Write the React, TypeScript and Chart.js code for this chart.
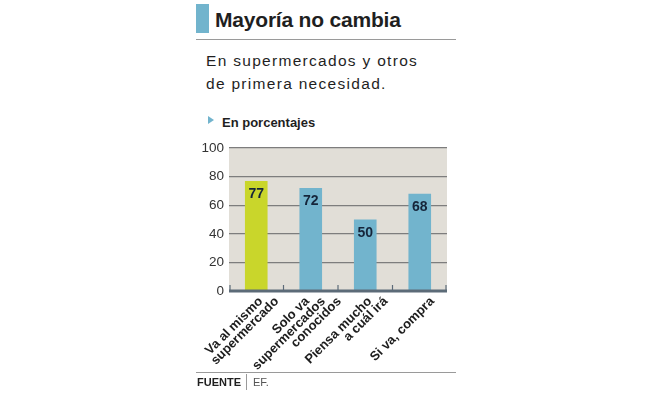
import React, { useEffect, useRef } from "react";
import { Chart, registerables } from "chart.js";

Chart.register(...registerables);

const categories: string[][] = [
  ["Va al mismo", "supermercado"],
  ["Solo va", "supermercados", "conocidos"],
  ["Piensa mucho", "a cuál irá"],
  ["Si va, compra"],
];
const values: number[] = [77, 72, 50, 68];
const barColors: string[] = ["#c9d62b", "#72b4cd", "#72b4cd", "#72b4cd"];
const yMin = 0;
const yMax = 100;
const yStep = 20;

const FONT = "'Liberation Sans', Arial, Helvetica, sans-serif";

const bgPlugin = {
  id: "plotBg",
  beforeDraw(chart: any) {
    const { ctx, chartArea } = chart;
    ctx.save();
    ctx.fillStyle = "#e1ded7";
    ctx.fillRect(chartArea.left, chartArea.top, chartArea.right - chartArea.left, chartArea.bottom - chartArea.top);
    ctx.restore();
  },
};

const axisPlugin = {
  id: "axisAndTicks",
  afterDatasetsDraw(chart: any) {
    const { ctx, chartArea } = chart;
    const x = chart.scales.x;
    const n = x.ticks.length;
    ctx.save();
    ctx.strokeStyle = "#5c6b78";
    ctx.lineWidth = 3;
    ctx.beginPath();
    ctx.moveTo(chartArea.left, chartArea.bottom);
    ctx.lineTo(chartArea.right, chartArea.bottom);
    ctx.stroke();
    ctx.lineWidth = 1.2;
    for (let i = 0; i <= n; i++) {
      const px = i === 0 ? chartArea.left + 1 : i === n ? chartArea.right - 1 : (x.getPixelForTick(i - 1) + x.getPixelForTick(i)) / 2;
      ctx.beginPath();
      ctx.moveTo(px, chartArea.bottom - 6);
      ctx.lineTo(px, chartArea.bottom);
      ctx.stroke();
    }
    // category labels, rotated 45°, lines hugging the axis
    ctx.fillStyle = "#1d1d1d";
    ctx.font = `bold 13px ${FONT}`;
    ctx.textAlign = "right";
    ctx.textBaseline = "alphabetic";
    const shift = 16;
    categories.forEach((lines, ci) => {
      const cx = x.getPixelForTick(ci);
      const nl = lines.length;
      lines.forEach((line, li) => {
        const ex = cx + 15 + shift * (li - (nl - 1) / 2);
        const ey = chartArea.bottom + 11;
        ctx.save();
        ctx.translate(ex, ey);
        ctx.rotate(-Math.PI / 4);
        ctx.fillText(line, 0, 0);
        ctx.restore();
      });
    });
    ctx.restore();
  },
};

const labelPlugin = {
  id: "barLabels",
  afterDatasetsDraw(chart: any) {
    const { ctx } = chart;
    const meta = chart.getDatasetMeta(0);
    ctx.save();
    ctx.font = `bold 14px ${FONT}`;
    ctx.fillStyle = "#15253a";
    ctx.textAlign = "center";
    ctx.textBaseline = "alphabetic";
    meta.data.forEach((bar: any, i: number) => {
      ctx.fillText(String(values[i]), bar.x, bar.y + 17);
    });
    ctx.restore();
  },
};

function BarChart() {
  const ref = useRef<HTMLCanvasElement | null>(null);
  useEffect(() => {
    if (!ref.current) return;
    const chart = new Chart(ref.current, {
      type: "bar",
      data: {
        labels: categories,
        datasets: [
          {
            data: values,
            backgroundColor: barColors,
            borderWidth: 0,
            barPercentage: 0.415,
            categoryPercentage: 1,
          },
        ],
      },
      options: {
        responsive: false,
        animation: false,
        devicePixelRatio: 1,
        layout: { padding: { left: 0, top: 148, right: 206, bottom: 0 } },
        plugins: { legend: { display: false }, tooltip: { enabled: false }, title: { display: false } },
        scales: {
          x: {
            grid: { display: false, drawTicks: false },
            border: { display: false },
            ticks: { display: false, autoSkip: false },
            afterFit(scale: any) {
              scale.height = 107;
            },
          },
          y: {
            min: yMin,
            max: yMax,
            grid: { color: "#7d7d7d", lineWidth: 1.2, drawTicks: false },
            border: { display: false },
            ticks: {
              stepSize: yStep,
              padding: 5,
              color: "#333",
              font: { family: FONT, size: 13.5 },
            },
            afterFit(scale: any) {
              scale.width = 229;
            },
          },
        },
      },
      plugins: [bgPlugin, axisPlugin, labelPlugin],
    });
    return () => chart.destroy();
  }, []);
  return <canvas ref={ref} width={653} height={398} style={{ position: "absolute", left: 0, top: 0, width: 653, height: 398 }} />;
}

export default function App() {
  return (
    <div style={{ position: "fixed", left: 0, top: 0, width: 653, height: 398, background: "#fff", overflow: "hidden", fontFamily: FONT }}>
      <div style={{ position: "absolute", left: 196, top: 4, width: 13, height: 29, background: "#72b4cd" }} />
      <div style={{ position: "absolute", left: 215, top: 9, fontSize: 21, lineHeight: 1, fontWeight: "bold", color: "#1f1f1f", whiteSpace: "nowrap", letterSpacing: -0.2 }}>
        Mayoría no cambia
      </div>
      <div style={{ position: "absolute", left: 196, top: 38.5, width: 260, height: 1, background: "#9a9a9a" }} />
      <div style={{ position: "absolute", left: 206, top: 49, fontSize: 15.5, lineHeight: "23px", letterSpacing: 1.3, color: "#1f1f1f", whiteSpace: "nowrap" }}>
        <div>En supermercados y otros</div>
        <div>de primera necesidad.</div>
      </div>
      <svg style={{ position: "absolute", left: 208, top: 116 }} width={7} height={9}>
        <polygon points="0,0 6,4 0,8" fill="#72b4cd" />
      </svg>
      <div style={{ position: "absolute", left: 222, top: 116, fontSize: 13, lineHeight: 1, fontWeight: "bold", color: "#1f1f1f", whiteSpace: "nowrap" }}>
        En porcentajes
      </div>
      <BarChart />
      <div style={{ position: "absolute", left: 196, top: 372, width: 260, height: 1, background: "#9a9a9a" }} />
      <div style={{ position: "absolute", left: 197, top: 377, fontSize: 11, lineHeight: 1, fontWeight: "bold", color: "#1f1f1f", whiteSpace: "nowrap" }}>
        FUENTE
      </div>
      <div style={{ position: "absolute", left: 246, top: 374, width: 1, height: 16, background: "#9a9a9a" }} />
      <div style={{ position: "absolute", left: 253, top: 377, fontSize: 11, lineHeight: 1, color: "#555", whiteSpace: "nowrap" }}>
        EF.
      </div>
    </div>
  );
}
